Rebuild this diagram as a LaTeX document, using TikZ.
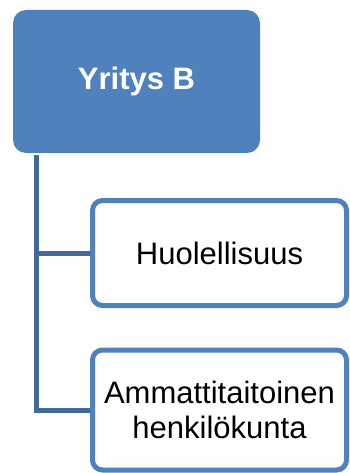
\documentclass[tikz,border=0pt]{standalone}
\usepackage{fontspec}
\setmainfont{Liberation Sans}
\definecolor{accent}{HTML}{4F81BD}
\definecolor{linkblue}{HTML}{41699B}
\begin{document}
\begin{tikzpicture}[x=1pt,y=-1pt,
  rootbox/.style={fill=accent, draw=none, rounded corners=13pt, text=white,
    font=\fontsize{31}{35}\selectfont\bfseries, align=center, inner sep=0pt},
  childbox/.style={fill=white, draw=accent, line width=5pt, rounded corners=10pt,
    font=\fontsize{31}{35}\selectfont, align=center, inner sep=0pt,
    minimum width=254pt},
  link/.style={draw=linkblue, line width=5pt}]
  \useasboundingbox (0,0) rectangle (350,473);
  % root of the hierarchy
  \node[rootbox, minimum width=247pt, minimum height=143pt] (root) at (136.5,81.5) {Yritys B};
  % children
  \node[childbox, minimum height=105pt] (c1) at (219.5,253) {Huolellisuus};
  \node[childbox, minimum height=120pt] (c2) at (219.5,410) {Ammattitaitoinen\\henkilökunta};
  % trunk and branches
  \coordinate (trunk) at (36,155);
  \draw[link] (trunk) |- (c1.west);
  \draw[link] (trunk) |- (c2.west);
\end{tikzpicture}
\end{document}
